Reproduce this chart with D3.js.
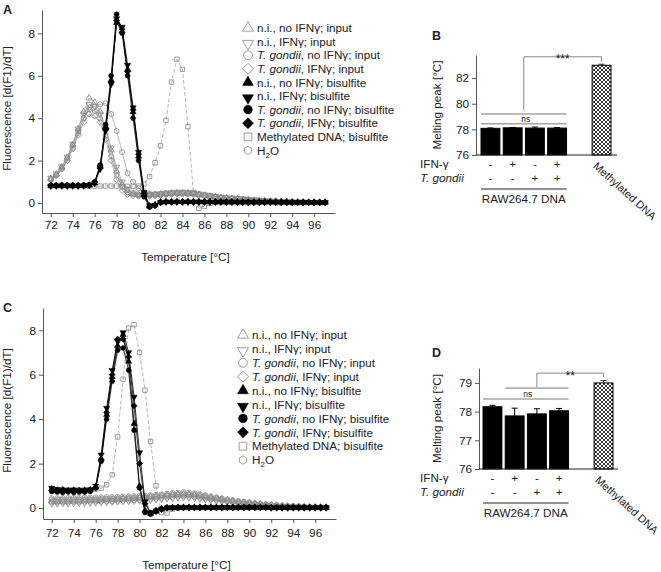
<!DOCTYPE html>
<html lang="en">
<head>
<meta charset="utf-8">
<title>Melting curves and melting peaks</title>
<script src="https://cdn.jsdelivr.net/npm/d3@7/dist/d3.min.js"></script>
<style>
body { margin: 0; background: #fff; }
svg text { font-family: "Liberation Sans", Arial, sans-serif; fill: #222; }
.axis text { font-size: 11.8px; }
.axis path, .axis line { stroke: #555; }
</style>
</head>
<body>
<svg id="fig" width="661" height="572"></svg>
<script>
// temperatures of the melting curve readings (°C)
var temps = [72, 72.5, 73, 73.5, 74, 74.5, 75, 75.5, 76, 76.5, 77, 77.5, 78, 78.5, 79, 79.5,
  80, 80.5, 81, 81.5, 82, 82.5, 83, 83.5, 84, 84.5, 85, 85.5, 86, 86.5, 87, 87.5,
  88, 88.5, 89, 89.5, 90, 90.5, 91, 91.5, 92, 92.5, 93, 93.5, 94, 94.5, 95, 95.5, 96, 96.5, 97];

var legendLabels = ['n.i., no IFNγ; input', 'n.i., IFNγ; input', 'T. gondii, no IFNγ; input',
  'T. gondii, IFNγ; input', 'n.i., no IFNγ; bisulfite', 'n.i., IFNγ; bisulfite',
  'T. gondii, no IFNγ; bisulfite', 'T. gondii, IFNγ; bisulfite', 'Methylated DNA; bisulfite', 'H2O'];

var lineXTicks = [72, 74, 76, 78, 80, 82, 84, 86, 88, 90, 92, 94, 96];
var lineYTicks = [0, 2, 4, 6, 8];

// panel A  d(F1)/dT
var aNiNoIfnInput = [1.15,1.35,1.7,2.15,2.75,3.5,4.3,4.95, 4.75,4.3,3.5,2.5,1.5,0.9,0.6,0.45,
  0.4,0.38,0.38,0.4,0.42,0.44,0.46,0.47, 0.47,0.46,0.44,0.4,0.36,0.32,0.28,0.25,
  0.22,0.2,0.18,0.16,0.14,0.12,0.11,0.1, 0.09,0.08,0.07,0.06,0.05,0.05,0.04,0.04, 0.03,0.03,0.03];
var aNiIfnInput = [1.18,1.38,1.72,2.18,2.78,3.5,4.2,4.65, 4.55,4.2,3.5,2.6,1.7,1.0,0.65,0.48,
  0.42,0.4,0.4,0.42,0.45,0.48,0.5,0.52, 0.52,0.5,0.48,0.44,0.4,0.36,0.32,0.29,
  0.26,0.24,0.22,0.2,0.18,0.16,0.14,0.12, 0.1,0.09,0.08,0.07,0.06,0.05,0.05,0.04, 0.04,0.03,0.03];
var aTgNoIfnInput = [1.12,1.32,1.65,2.1,2.7,3.4,4.0,4.4, 4.35,4.0,3.2,2.2,1.3,0.75,0.5,0.4,
  0.36,0.35,0.36,0.38,0.4,0.42,0.44,0.45, 0.45,0.44,0.42,0.39,0.35,0.31,0.28,0.25,
  0.22,0.2,0.18,0.16,0.14,0.12,0.11,0.1, 0.09,0.08,0.07,0.06,0.05,0.05,0.04,0.04, 0.03,0.03,0.03];
var aTgIfnInput = [1.1,1.3,1.6,2.0,2.55,3.2,3.8,4.2, 4.1,3.8,3.0,2.0,1.1,0.6,0.4,0.35,
  0.32,0.32,0.33,0.35,0.37,0.39,0.41,0.42, 0.42,0.41,0.39,0.36,0.33,0.3,0.27,0.24,
  0.21,0.19,0.17,0.15,0.13,0.12,0.1,0.09, 0.08,0.07,0.06,0.05,0.05,0.04,0.04,0.03, 0.03,0.03,0.02];
var aNiNoIfnBis = [0.82,0.82,0.83,0.82,0.82,0.82,0.82,0.84, 0.95,1.7,3.6,5.8,8.5,8.1,6.3,4.3,
  2.2,0.4,-0.15,-0.08,0.04,0.06,0.06,0.06, 0.06,0.06,0.06,0.06,0.06,0.06,0.05,0.05,
  0.05,0.05,0.05,0.05,0.05,0.04,0.04,0.04, 0.04,0.04,0.04,0.04,0.03,0.03,0.03,0.03, 0.03,0.03,0.03];
var aNiIfnBis = [0.8,0.81,0.81,0.8,0.81,0.8,0.81,0.83, 0.92,1.6,3.4,5.6,8.7,8.3,6.5,4.5,
  2.4,0.5,-0.12,-0.1,0.03,0.05,0.05,0.05, 0.05,0.05,0.05,0.05,0.05,0.05,0.05,0.05,
  0.05,0.05,0.04,0.04,0.04,0.04,0.04,0.04, 0.04,0.04,0.03,0.03,0.03,0.03,0.03,0.03, 0.03,0.03,0.03];
var aTgNoIfnBis = [0.84,0.84,0.85,0.84,0.84,0.84,0.85,0.86, 1.0,1.8,3.7,6.0,8.9,8.0,6.0,4.0,
  2.0,0.3,-0.2,-0.12,0.03,0.05,0.05,0.05, 0.05,0.05,0.05,0.05,0.05,0.05,0.05,0.05,
  0.05,0.05,0.04,0.04,0.04,0.04,0.04,0.04, 0.04,0.04,0.03,0.03,0.03,0.03,0.03,0.03, 0.03,0.03,0.03];
var aTgIfnBis = [0.83,0.83,0.82,0.83,0.83,0.83,0.83,0.85, 0.98,1.75,3.5,5.7,8.6,8.2,6.2,4.4,
  2.3,0.45,-0.15,-0.1,0.04,0.05,0.05,0.05, 0.05,0.05,0.05,0.05,0.05,0.05,0.05,0.05,
  0.05,0.05,0.04,0.04,0.04,0.04,0.04,0.04, 0.04,0.04,0.03,0.03,0.03,0.03,0.03,0.03, 0.03,0.03,0.03];
var aMethylated = [0.8,0.8,0.8,0.8,0.8,0.8,0.8,0.8, 0.8,0.8,0.8,0.8,0.8,0.79,0.79,0.79,
  0.8,0.9,1.25,1.9,2.7,3.9,5.7,6.78, 6.3,3.6,0.5,-0.25,-0.15,-0.02,0.02,0.02,
  0.02,0.02,0.02,0.02,0.02,0.02,0.02,0.02, 0.02,0.02,0.02,0.02,0.02,0.02,0.02,0.02, 0.02,0.02,0.02];
var aWater = [1.1,1.3,1.6,2.0,2.6,3.3,4.0,4.5, 4.55,4.65,4.7,4.2,3.4,2.4,1.4,1.0,
  0.7,0.55,0.45,0.42,0.42,0.44,0.46,0.48, 0.48,0.47,0.45,0.42,0.38,0.34,0.3,0.27,
  0.24,0.22,0.2,0.18,0.16,0.14,0.12,0.11, 0.1,0.09,0.08,0.07,0.06,0.05,0.05,0.04, 0.04,0.03,0.03];

// panel C  d(F1)/dT
var cNiNoIfnInput = [0.3,0.3,0.31,0.31,0.32,0.32,0.33,0.34, 0.35,0.36,0.37,0.38,0.4,0.41,0.42,0.44,
  0.45,0.47,0.5,0.52,0.55,0.58,0.6,0.62, 0.63,0.62,0.6,0.56,0.52,0.48,0.44,0.4,
  0.36,0.32,0.29,0.26,0.23,0.2,0.18,0.16, 0.14,0.12,0.1,0.09,0.08,0.07,0.06,0.05, 0.05,0.04,0.04];
var cNiIfnInput = [0.2,0.2,0.21,0.21,0.22,0.22,0.23,0.24, 0.25,0.26,0.27,0.28,0.29,0.3,0.31,0.32,
  0.33,0.35,0.37,0.39,0.41,0.43,0.45,0.47, 0.48,0.47,0.45,0.42,0.39,0.36,0.33,0.3,
  0.27,0.24,0.22,0.2,0.18,0.16,0.14,0.12, 0.1,0.09,0.08,0.07,0.06,0.05,0.05,0.04, 0.04,0.03,0.03];
var cTgNoIfnInput = [0.45,0.45,0.46,0.46,0.47,0.47,0.48,0.48, 0.49,0.49,0.5,0.5,0.51,0.52,0.53,0.54,
  0.55,0.56,0.58,0.6,0.62,0.65,0.68,0.7, 0.72,0.7,0.67,0.63,0.58,0.53,0.48,0.44,
  0.4,0.36,0.32,0.29,0.26,0.23,0.2,0.18, 0.16,0.14,0.12,0.1,0.09,0.08,0.07,0.06, 0.05,0.05,0.04];
var cTgIfnInput = [0.38,0.38,0.39,0.39,0.4,0.4,0.4,0.41, 0.41,0.42,0.42,0.43,0.44,0.45,0.46,0.47,
  0.48,0.5,0.52,0.54,0.56,0.58,0.6,0.62, 0.62,0.61,0.58,0.55,0.5,0.46,0.42,0.38,
  0.34,0.31,0.28,0.25,0.22,0.2,0.17,0.15, 0.13,0.12,0.1,0.09,0.08,0.07,0.06,0.05, 0.05,0.04,0.04];
var cNiNoIfnBis = [0.85,0.8,0.82,0.78,0.8,0.79,0.8,0.82, 0.95,2.2,4.2,5.9,7.3,7.8,6.6,3.8,
  1.0,-0.1,-0.25,-0.15,-0.05,0.01,0.02,0.03, 0.03,0.03,0.03,0.03,0.03,0.03,0.03,0.03,
  0.03,0.03,0.03,0.03,0.03,0.03,0.03,0.03, 0.02,0.02,0.02,0.02,0.02,0.02,0.02,0.02, 0.02,0.02,0.02];
var cNiIfnBis = [0.9,0.85,0.82,0.8,0.82,0.8,0.8,0.83, 1.0,2.4,4.5,6.2,7.5,7.9,7.0,5.0,
  2.5,0.3,-0.2,-0.12,-0.03,0.02,0.03,0.03, 0.03,0.03,0.03,0.03,0.03,0.03,0.03,0.03,
  0.03,0.03,0.03,0.03,0.03,0.03,0.03,0.03, 0.02,0.02,0.02,0.02,0.02,0.02,0.02,0.02, 0.02,0.02,0.02];
var cTgNoIfnBis = [0.75,0.72,0.7,0.72,0.7,0.72,0.72,0.75, 0.9,2.1,4.0,5.7,7.1,7.2,6.2,3.5,
  0.9,-0.2,-0.28,-0.15,-0.05,0.01,0.02,0.03, 0.03,0.03,0.03,0.03,0.03,0.03,0.03,0.03,
  0.03,0.03,0.03,0.03,0.03,0.03,0.03,0.03, 0.02,0.02,0.02,0.02,0.02,0.02,0.02,0.02, 0.02,0.02,0.02];
var cTgIfnBis = [0.8,0.78,0.75,0.76,0.75,0.76,0.76,0.8, 0.92,2.2,4.3,6.0,7.6,7.6,6.8,4.6,
  2.0,0.2,-0.22,-0.1,-0.02,0.02,0.03,0.03, 0.03,0.03,0.03,0.03,0.03,0.03,0.03,0.03,
  0.03,0.03,0.03,0.03,0.03,0.03,0.03,0.03, 0.02,0.02,0.02,0.02,0.02,0.02,0.02,0.02, 0.02,0.02,0.02];
var cMethylated = [0.82,0.82,0.82,0.82,0.82,0.82,0.82,0.82, 0.85,0.9,1.05,1.5,3.2,5.8,8.1,8.25,
  7.0,5.3,3.0,1.0,-0.2,-0.22,-0.05,0.0, 0.02,0.02,0.02,0.02,0.02,0.02,0.02,0.02,
  0.02,0.02,0.02,0.02,0.02,0.02,0.02,0.02, 0.02,0.02,0.02,0.02,0.02,0.02,0.02,0.02, 0.02,0.02,0.02];
var cWater = [0.26,0.26,0.27,0.27,0.28,0.28,0.29,0.29, 0.3,0.3,0.31,0.32,0.33,0.34,0.35,0.36,
  0.37,0.39,0.41,0.43,0.45,0.47,0.5,0.52, 0.53,0.52,0.5,0.47,0.44,0.4,0.37,0.34,
  0.3,0.27,0.24,0.22,0.2,0.18,0.16,0.14, 0.12,0.1,0.09,0.08,0.07,0.06,0.05,0.05, 0.04,0.04,0.03];

// bar panels: melting peak (°C), mean and error
var barSlots = [0, 1, 2, 3, 5];
var ifnSigns = ['-', '+', '-', '+'];
var toxoSigns = ['-', '-', '+', '+'];
var bMeans = [78.08, 78.12, 78.1, 78.1, 83.0];
var bErrors = [0.03, 0.03, 0.08, 0.04, 0.08];
var bTicks = [76, 78, 80, 82];
var dMeans = [78.17, 77.85, 77.92, 78.03, 79.0];
var dErrors = [0.05, 0.27, 0.18, 0.08, 0.08];
var dTicks = [76, 77, 78, 79];

var svg = d3.select('#fig');

var hatch = svg.append('defs').append('pattern')
  .attr('id', 'hatch').attr('patternUnits', 'userSpaceOnUse')
  .attr('width', 4).attr('height', 4);
hatch.append('rect').attr('width', 4).attr('height', 4).attr('fill', '#fff');
hatch.append('path').attr('d', 'M0,0L4,4M4,0L0,4M-1,3L1,5M3,-1L5,1M-1,1L1,-1M3,5L5,3')
  .attr('stroke', '#000').attr('stroke-width', 0.8);

var hexagon = {
  draw: function(ctx, size) {
    var r = Math.sqrt(size / 2.598);
    for (var k = 0; k < 6; k++) {
      var a = Math.PI / 3 * k - Math.PI / 2;
      if (k) ctx.lineTo(r * Math.cos(a), r * Math.sin(a));
      else ctx.moveTo(r * Math.cos(a), r * Math.sin(a));
    }
    ctx.closePath();
  }
};

/* one entry per legend row */
var kinds = [
  {type: d3.symbolTriangle, rot: 0, filled: false},
  {type: d3.symbolTriangle, rot: 180, filled: false},
  {type: d3.symbolCircle, rot: 0, filled: false},
  {type: d3.symbolSquare, rot: 45, filled: false},
  {type: d3.symbolTriangle, rot: 0, filled: true},
  {type: d3.symbolTriangle, rot: 180, filled: true},
  {type: d3.symbolCircle, rot: 0, filled: true},
  {type: d3.symbolSquare, rot: 45, filled: true},
  {type: d3.symbolSquare, rot: 0, filled: false, dashed: true},
  {type: hexagon, rot: 0, filled: false}
];
var drawOrder = [9, 3, 2, 1, 0, 8, 7, 6, 5, 4];

function writeLabel(sel, label) {
  if (label === 'H2O') {
    sel.append('tspan').text('H');
    sel.append('tspan').attr('font-size', '8px').attr('dy', 3).text('2');
    sel.append('tspan').attr('dy', -3).text('O');
  } else if (label.indexOf('T. gondii') === 0) {
    sel.append('tspan').attr('font-style', 'italic').text('T. gondii');
    sel.append('tspan').text(label.slice(9));
  } else {
    sel.text(label);
  }
}

function styleMarker(sel, k) {
  sel.attr('fill', k.filled ? '#000' : 'none')
    .attr('stroke', k.filled ? '#000' : '#888')
    .attr('stroke-width', k.filled ? 0.5 : 0.8);
}

function linePanel(p) {
  var x = d3.scaleLinear().domain([71.2, 97.9]).range([p.left, p.right]);
  var y = d3.scaleLinear().domain(p.yDomain).range([p.bottom, p.top]);
  var g = svg.append('g');

  g.append('g').attr('class', 'axis').attr('transform', 'translate(0,' + p.bottom + ')')
    .call(d3.axisBottom(x).tickValues(lineXTicks).tickSize(4).tickSizeOuter(0).tickPadding(p.xPad));
  g.append('g').attr('class', 'axis').attr('transform', 'translate(' + p.left + ',0)')
    .call(d3.axisLeft(y).tickValues(lineYTicks).tickSize(4).tickSizeOuter(0).tickPadding(3));

  var line = d3.line().x(function(d, i) { return x(temps[i]); }).y(function(d) { return y(d); });

  drawOrder.forEach(function(s) {
    var k = kinds[s], vals = p.series[s];
    g.append('path').datum(vals).attr('d', line).attr('fill', 'none')
      .attr('stroke', k.filled ? '#000' : '#999')
      .attr('stroke-width', k.filled ? 0.8 : 0.7)
      .attr('stroke-dasharray', k.dashed ? '4,2' : null);
    var sym = d3.symbol().type(k.type).size(k.type === d3.symbolTriangle ? 17 : 19);
    g.append('g').selectAll('path').data(vals).enter().append('path')
      .attr('transform', function(d, i) { return 'translate(' + x(temps[i]) + ',' + y(d) + ') rotate(' + k.rot + ')'; })
      .attr('d', sym)
      .call(styleMarker, k);
  });

  // legend
  legendLabels.forEach(function(lab, i) {
    var k = kinds[i], ly = p.legY + i * p.legStep;
    var sym = d3.symbol().type(k.type).size(k.type === d3.symbolTriangle ? 52 : (k.type === hexagon ? 45 : 60));
    g.append('path').attr('d', sym)
      .attr('transform', 'translate(' + p.legX + ',' + (ly + (k.rot === 180 ? 2 : 0)) + ') rotate(' + k.rot + ')')
      .call(styleMarker, k);
    g.append('text').attr('x', p.legX + 9).attr('y', ly).attr('dy', '0.36em')
      .attr('font-size', '11.7px').call(writeLabel, lab);
  });

  g.append('text').attr('x', (p.left + p.right) / 2 - 3).attr('y', p.titleY)
    .attr('text-anchor', 'middle').attr('font-size', '11.7px').text('Temperature [°C]');
  g.append('text').attr('transform', 'translate(7,' + ((p.top + p.bottom) / 2 - 3) + ') rotate(-90)')
    .attr('text-anchor', 'middle').attr('dy', '0.36em').attr('font-size', '11.7px')
    .text('Fluorescence [d(F1)/dT]');
  g.append('text').attr('x', 3).attr('y', p.top + 4).attr('font-size', '12.5px')
    .attr('font-weight', 'bold').text(p.letter);
}

function barPanel(p) {
  var x = d3.scaleBand().domain(d3.range(6)).range([p.x0, p.x1]).paddingInner(0.15);
  var y = d3.scaleLinear().domain(p.yDomain).range([p.bottom, p.top]);
  var bw = x.bandwidth();
  var g = svg.append('g');
  var cx = function(i) { return x(barSlots[i]) + bw / 2; };

  g.selectAll('rect').data(p.means).enter().append('rect')
    .attr('x', function(d, i) { return x(barSlots[i]); })
    .attr('width', bw)
    .attr('y', function(d) { return y(d); })
    .attr('height', function(d) { return p.bottom - y(d); })
    .attr('fill', function(d, i) { return i === 4 ? 'url(#hatch)' : '#000'; })
    .attr('stroke', '#000').attr('stroke-width', 1);

  p.means.forEach(function(m, i) {
    var top = y(m + p.errors[i]);
    g.append('path').attr('d', 'M' + cx(i) + ',' + y(m) + 'V' + top + 'M' + (cx(i) - 3) + ',' + top + 'H' + (cx(i) + 3))
      .attr('stroke', i === 4 ? '#333' : '#000').attr('stroke-width', 1).attr('fill', 'none');
  });

  g.append('g').attr('class', 'axis').attr('transform', 'translate(' + p.left + ',0)')
    .call(d3.axisLeft(y).tickValues(p.ticks).tickFormat(d3.format('d'))
      .tickSize(4).tickSizeOuter(0).tickPadding(3));
  g.append('line').attr('x1', p.left).attr('x2', p.axisRight).attr('y1', p.bottom).attr('y2', p.bottom)
    .attr('stroke', '#222').attr('stroke-width', 1.2);

  // significance marks
  var groupL = x(0), groupR = x(3) + bw;
  g.append('line').attr('x1', x(p.nsUpperFrom)).attr('x2', groupR)
    .attr('y1', y(p.nsUpper)).attr('y2', y(p.nsUpper)).attr('stroke', '#555').attr('stroke-width', 0.8);
  g.append('line').attr('x1', groupL).attr('x2', groupR)
    .attr('y1', y(p.nsLower)).attr('y2', y(p.nsLower)).attr('stroke', '#555').attr('stroke-width', 0.8);
  g.append('text').attr('x', (groupL + groupR) / 2 + 2).attr('y', (y(p.nsUpper) + y(p.nsLower)) / 2 + 3)
    .attr('text-anchor', 'middle').attr('font-size', '8.5px').attr('fill', '#444').text('ns');
  var bx = (x(p.nsUpperFrom) + groupR) / 2, mx = cx(4);
  g.append('path').attr('d', 'M' + bx + ',' + y(p.brFrom) + 'V' + y(p.brTop) + 'H' + mx + 'V' + y(p.brEnd))
    .attr('fill', 'none').attr('stroke', '#888').attr('stroke-width', 1);
  g.append('text').attr('x', (bx + mx) / 2).attr('y', y(p.brTop) + 6.5)
    .attr('text-anchor', 'middle').attr('font-size', '12px').text(p.stars);

  // treatment rows
  g.append('text').attr('x', 420).attr('y', p.bottom + 9).attr('dy', '0.36em')
    .attr('font-size', '11.7px').text('IFN-γ');
  g.append('text').attr('x', 420).attr('y', p.bottom + 23).attr('dy', '0.36em')
    .attr('font-size', '11.7px').attr('font-style', 'italic').text('T. gondii');
  ifnSigns.forEach(function(s, i) {
    g.append('text').attr('x', cx(i)).attr('y', p.bottom + 9).attr('dy', '0.36em')
      .attr('text-anchor', 'middle').attr('font-size', '11.7px').text(s);
  });
  toxoSigns.forEach(function(s, i) {
    g.append('text').attr('x', cx(i)).attr('y', p.bottom + 23).attr('dy', '0.36em')
      .attr('text-anchor', 'middle').attr('font-size', '11.7px').text(s);
  });
  g.append('line').attr('x1', groupL).attr('x2', groupR).attr('y1', p.bottom + 34).attr('y2', p.bottom + 34)
    .attr('stroke', '#222').attr('stroke-width', 1);
  g.append('text').attr('x', (groupL + groupR) / 2).attr('y', p.bottom + 44).attr('dy', '0.36em')
    .attr('text-anchor', 'middle').attr('font-size', '11.7px').text('RAW264.7 DNA');
  g.append('text').attr('transform', 'translate(' + (cx(4) - 9) + ',' + (p.bottom + 12) + ') rotate(42)')
    .attr('font-size', '11px').text('Methylated DNA');

  g.append('text').attr('transform', 'translate(437,' + (p.top + p.bottom) / 2 + ') rotate(-90)')
    .attr('text-anchor', 'middle').attr('dy', '0.36em').attr('font-size', '11.7px').text('Melting peak [°C]');
  g.append('text').attr('x', 432).attr('y', p.letterY).attr('font-size', '12.5px')
    .attr('font-weight', 'bold').text(p.letter);
}

linePanel({
  letter: 'A', left: 42, right: 335, top: 10, bottom: 213, yDomain: [-0.47, 9.1], xPad: 4, titleY: 261,
  legX: 248, legY: 28, legStep: 13.6,
  series: [aNiNoIfnInput, aNiIfnInput, aTgNoIfnInput, aTgIfnInput, aNiNoIfnBis, aNiIfnBis,
    aTgNoIfnBis, aTgIfnBis, aMethylated, aWater]
});
linePanel({
  letter: 'C', left: 43, right: 336, top: 308, bottom: 519, yDomain: [-0.49, 9.0], xPad: 6, titleY: 569,
  legX: 243, legY: 335, legStep: 13.9,
  series: [cNiNoIfnInput, cNiIfnInput, cTgNoIfnInput, cTgIfnInput, cNiNoIfnBis, cNiIfnBis,
    cTgNoIfnBis, cTgIfnBis, cMethylated, cWater]
});
barPanel({
  letter: 'B', letterY: 40, left: 476, axisRight: 617, x0: 481, x1: 611, top: 55, bottom: 155,
  yDomain: [76, 83.8], ticks: bTicks, means: bMeans, errors: bErrors,
  nsUpper: 79.2, nsLower: 78.43, nsUpperFrom: 0, brFrom: 79.5, brTop: 83.66, brEnd: 83.27, stars: '***'
});
barPanel({
  letter: 'D', letterY: 357, left: 479, axisRight: 618, x0: 483, x1: 613, top: 368, bottom: 469,
  yDomain: [76, 79.52], ticks: dTicks, means: dMeans, errors: dErrors,
  nsUpper: 78.82, nsLower: 78.44, nsUpperFrom: 1, brFrom: 78.86, brTop: 79.34, brEnd: 79.2, stars: '**'
});
</script>
</body>
</html>
